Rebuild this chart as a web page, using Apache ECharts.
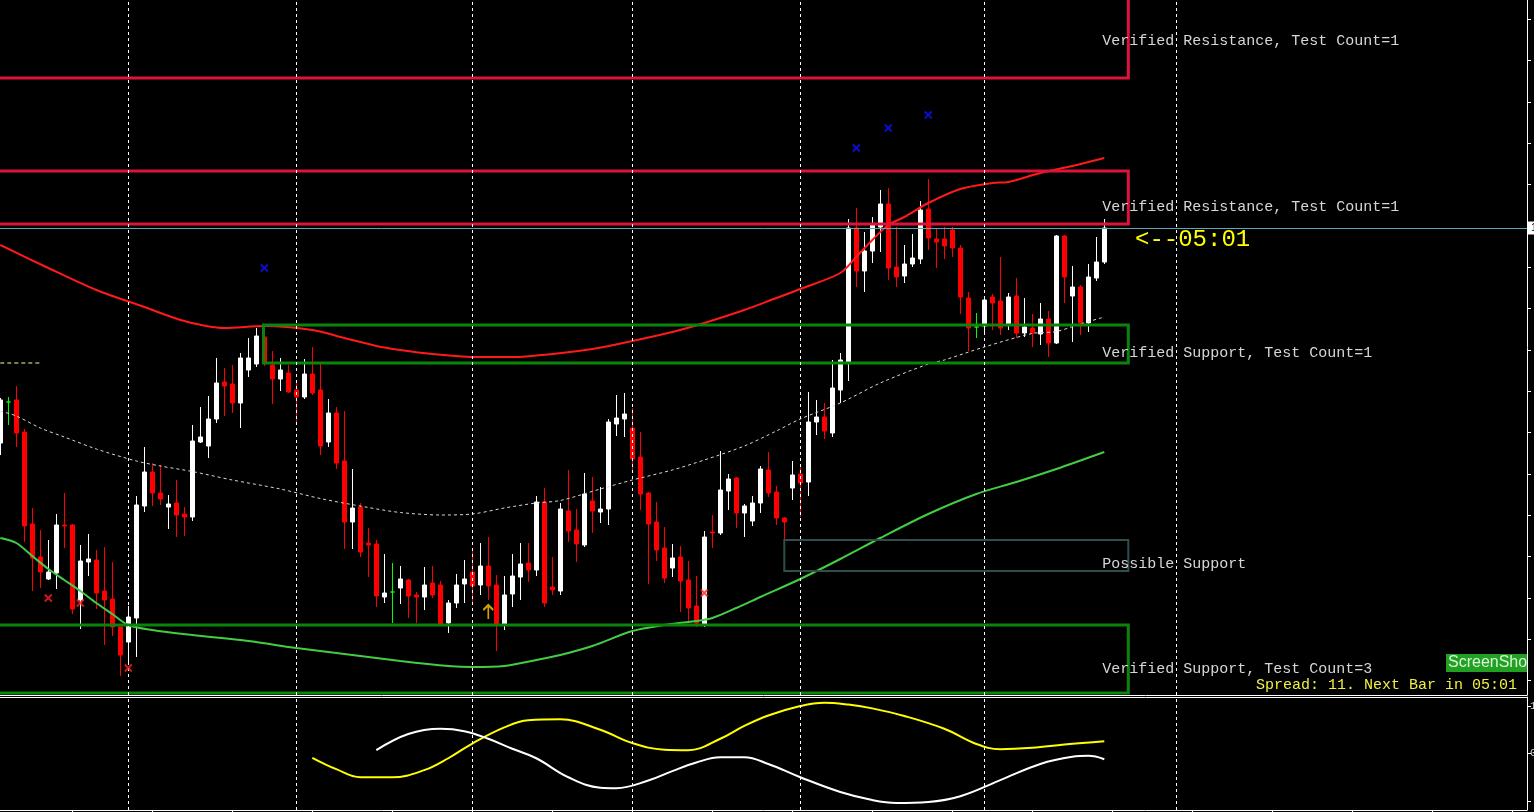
<!DOCTYPE html>
<html>
<head>
<meta charset="utf-8">
<title>Chart</title>
<script src="https://cdn.jsdelivr.net/npm/echarts@6.0.0/dist/echarts.min.js"></script>
<style>
  html, body { margin: 0; padding: 0; background: #000; }
  #main { width: 1534px; height: 812px; }
</style>
</head>
<body>
<div id="main"></div>
<script>
// bars: [open, close, low, high]
const ohlc = [
  [1.3057,1.3100,1.3045,1.3102],[1.3098,1.3098,1.3075,1.3103],[1.3100,1.3067,1.3053,1.3114],[1.3068,1.2974,1.2958,1.3071],
  [1.2976,1.2942,1.2909,1.2992],[1.2943,1.2928,1.2912,1.2970],[1.2921,1.2928,1.2920,1.2960],[1.2927,1.2975,1.2911,1.2986],
  [1.2975,1.2974,1.2952,1.3007],[1.2975,1.2891,1.2886,1.2976],[1.2900,1.2939,1.2871,1.2955],[1.2938,1.2941,1.2924,1.2966],
  [1.2940,1.2907,1.2891,1.2950],[1.2909,1.2900,1.2855,1.2953],[1.2901,1.2873,1.2864,1.2938],[1.2873,1.2845,1.2824,1.2873],
  [1.2858,1.2883,1.2837,1.2894],[1.2882,1.2995,1.2843,1.3004],[1.2994,1.3028,1.2988,1.3053],[1.3028,1.3007,1.2994,1.3037],
  [1.3007,1.3001,1.2995,1.3035],[1.2993,1.2996,1.2971,1.3005],[1.2997,1.2985,1.2963,1.3020],[1.2986,1.2983,1.2964,1.2993],
  [1.2983,1.3059,1.2979,1.3075],[1.3058,1.3063,1.3057,1.3093],[1.3054,1.3081,1.3042,1.3104],[1.3081,1.3117,1.3077,1.3142],
  [1.3118,1.3114,1.3084,1.3132],[1.3116,1.3097,1.3087,1.3135],[1.3097,1.3142,1.3072,1.3147],[1.3130,1.3142,1.3123,1.3162],
  [1.3136,1.3164,1.3133,1.3172],[1.3163,1.3138,1.3134,1.3174],[1.3135,1.3121,1.3096,1.3149],[1.3121,1.3130,1.3109,1.3142],
  [1.3127,1.3108,1.3107,1.3135],[1.3110,1.3103,1.3078,1.3117],[1.3103,1.3126,1.3101,1.3141],[1.3126,1.3107,1.3105,1.3153],
  [1.3110,1.3054,1.3045,1.3138],[1.3058,1.3087,1.3053,1.3101],[1.3087,1.3037,1.3031,1.3093],[1.3039,1.2978,1.2951,1.3089],
  [1.2978,1.2992,1.2951,1.3031],[1.2993,1.2948,1.2943,1.2997],[1.2957,1.2955,1.2923,1.2972],[1.2956,1.2904,1.2893,1.2960],
  [1.2903,1.2907,1.2897,1.2946],[1.2908,1.2908,1.2877,1.2937],[1.2912,1.2921,1.2896,1.2934],[1.2920,1.2904,1.2882,1.2921],
  [1.2905,1.2903,1.2877,1.2908],[1.2903,1.2915,1.2890,1.2933],[1.2917,1.2905,1.2902,1.2934],[1.2915,1.2876,1.2876,1.2919],
  [1.2877,1.2897,1.2867,1.2900],[1.2897,1.2915,1.2892,1.2926],[1.2916,1.2921,1.2897,1.2940],[1.2928,1.2914,1.2898,1.2951],
  [1.2915,1.2934,1.2905,1.2957],[1.2934,1.2914,1.2900,1.2963],[1.2915,1.2876,1.2849,1.2925],[1.2876,1.2905,1.2870,1.2924],
  [1.2906,1.2924,1.2893,1.2946],[1.2923,1.2936,1.2900,1.2957],[1.2937,1.2930,1.2918,1.2957],[1.2930,1.2998,1.2924,1.3004],
  [1.2998,1.2897,1.2893,1.3012],[1.2913,1.2910,1.2905,1.2943],[1.2909,1.2991,1.2905,1.2997],[1.2989,1.2969,1.2958,1.3030],
  [1.2970,1.2956,1.2938,1.2991],[1.2955,1.3006,1.2953,1.3027],[1.2999,1.2989,1.2967,1.3023],[1.2988,1.2991,1.2977,1.3013],
  [1.2991,1.3078,1.2975,1.3081],[1.3076,1.3082,1.3064,1.3105],[1.3081,1.3086,1.3063,1.3107],[1.3072,1.3041,1.3028,1.3092],
  [1.3043,1.3006,1.2990,1.3068],[1.3007,1.2976,1.2916,1.3008],[1.2978,1.2950,1.2939,1.2998],[1.2952,1.2922,1.2917,1.2973],
  [1.2932,1.2942,1.2923,1.2956],[1.2943,1.2919,1.2888,1.2954],[1.2920,1.2892,1.2878,1.2939],[1.2894,1.2877,1.2873,1.2924],
  [1.2875,1.2963,1.2873,1.2969],[1.2968,1.2967,1.2952,1.2985],[1.2967,1.3010,1.2965,1.3049],[1.3009,1.3021,1.2990,1.3026],
  [1.3022,1.2987,1.2972,1.3023],[1.2987,1.2994,1.2963,1.2996],[1.2979,1.2997,1.2974,1.3004],[1.2997,1.3031,1.2987,1.3034],
  [1.3030,1.3007,1.3003,1.3048],[1.3008,1.2982,1.2975,1.3014],[1.2982,1.2978,1.2960,1.2983],[1.3012,1.3025,1.3000,1.3039],
  [1.3026,1.3017,1.2983,1.3035],[1.3018,1.3078,1.3004,1.3108],[1.3078,1.3083,1.3065,1.3100],[1.3083,1.3069,1.3061,1.3097],
  [1.3067,1.3112,1.3063,1.3140],[1.3110,1.3140,1.3097,1.3147],[1.3137,1.3272,1.3119,1.3281],[1.3272,1.3229,1.3213,1.3292],
  [1.3229,1.3249,1.3208,1.3268],[1.3249,1.3275,1.3237,1.3283],[1.3273,1.3296,1.3248,1.3310],[1.3296,1.3232,1.3220,1.3312],
  [1.3233,1.3223,1.3213,1.3273],[1.3224,1.3236,1.3217,1.3255],[1.3236,1.3242,1.3233,1.3266],[1.3241,1.3290,1.3236,1.3299],
  [1.3291,1.3262,1.3250,1.3321],[1.3261,1.3258,1.3232,1.3272],[1.3261,1.3254,1.3241,1.3273],[1.3270,1.3252,1.3243,1.3273],
  [1.3252,1.3203,1.3186,1.3255],[1.3202,1.3172,1.3149,1.3208],[1.3173,1.3173,1.3162,1.3187],[1.3174,1.3200,1.3167,1.3202],
  [1.3203,1.3197,1.3170,1.3206],[1.3199,1.3172,1.3165,1.3243],[1.3175,1.3203,1.3170,1.3207],[1.3204,1.3167,1.3162,1.3222],
  [1.3167,1.3173,1.3163,1.3202],[1.3172,1.3167,1.3153,1.3186],[1.3166,1.3181,1.3155,1.3197],[1.3181,1.3157,1.3143,1.3189],
  [1.3157,1.3264,1.3156,1.3265],[1.3264,1.3223,1.3197,1.3265],[1.3204,1.3213,1.3158,1.3234],[1.3213,1.3177,1.3165,1.3215],
  [1.3177,1.3223,1.3168,1.3236],[1.3222,1.3238,1.3219,1.3263],[1.3238,1.3272,1.3236,1.3281]
];

// moving averages: [bar, price]
const redMA = [[0,1.3255],[6,1.3232],[12,1.3210],[18,1.3193],[23,1.3179],[28,1.3172],[33,1.3174],[39,1.3170],[43,1.3162],
  [47,1.3154],[50,1.3150],[54,1.3146],[59,1.3143],[64,1.3143],[69,1.3146],[74,1.3151],[79,1.3159],[84,1.3168],[88,1.3177],
  [93,1.3190],[97,1.3202],[100,1.3211],[105,1.3227],[107,1.3243],[109,1.3260],[111,1.3275],[113,1.3283],[116,1.3297],
  [120,1.3311],[124,1.3317],[126,1.3318],[130,1.3327],[134,1.3334],[138,1.3342]];
const greyMA = [[0,1.3089],[2,1.3084],[5,1.3072],[8,1.3063],[12,1.3051],[17,1.3039],[20,1.3034],[24,1.30285],[29,1.3020],
  [35,1.3011],[40,1.30015],[46,1.29925],[50,1.29875],[55,1.2985],[59,1.2986],[63,1.2992],[67,1.2997],[70,1.29995],[75,1.3011],
  [79,1.3020],[84,1.3030],[88,1.3040],[93,1.3054],[97,1.3069],[100,1.3081],[105,1.3097],[110,1.3117],[116,1.3136],[118,1.3140],
  [123,1.3153],[129,1.31665],[132,1.31685],[135,1.3176],[138,1.3183]];
const greenMA = [[0,1.2962],[2,1.2957],[4,1.2944],[6,1.2931],[8,1.2920],[10,1.2909],[12,1.2897],[14,1.2886],[16,1.2875],
  [19,1.2870],[24,1.2865],[31,1.2859],[37,1.2852],[43,1.2846],[50,1.2839],[56,1.2834],[59,1.2833],[63,1.2834],[67,1.2840],
  [70,1.2845],[74,1.2854],[79,1.2869],[83,1.2875],[87,1.2879],[89,1.2882],[92,1.2892],[95,1.2903],[100,1.2921],[105,1.2941],
  [110,1.2962],[116,1.2986],[122,1.3006],[127,1.3018],[132,1.3031],[138,1.3048]];
const prevLevel = [[0,1.3137],[5,1.3137]];

// oscillator panel
const leadSine = [[39,-0.09],[42,-0.33],[45,-0.5],[49,-0.5],[53,-0.35],[56,-0.1],[59,0.21],[63,0.55],[66,0.7],[70,0.72],
  [75,0.5],[79,0.22],[83,0.08],[86,0.07],[90,0.31],[93,0.58],[96,0.8],[100,1.0],[103,1.07],[106,1.03],[109,0.95],[113,0.79],
  [118,0.52],[122,0.2],[125,0.09],[129,0.12],[133,0.19],[138,0.26]];
const sineWave = [[47,0.07],[51,0.41],[55,0.52],[58,0.47],[61,0.31],[64,0.1],[67,-0.1],[71,-0.5],[75,-0.72],[77,-0.73],
  [81,-0.57],[84,-0.37],[87,-0.19],[90,-0.08],[93,-0.08],[96,-0.22],[100,-0.5],[105,-0.81],[109,-0.98],[112,-1.04],
  [116,-1.02],[120,-0.9],[125,-0.56],[130,-0.22],[134,-0.07],[136,-0.05],[138,-0.12]];

// fractal marks
const upFractals = [[33,1.3232],[107,1.3352],[111,1.3372],[116,1.3385]];
const downFractals = [[6,1.2902],[10,1.2897],[16,1.2832],[88,1.2907]];
const buyArrows = [[61,1.2888]];

// support / resistance zones
const zoneStart = [-2, -2, 32.9, 98, -2];
const zoneEnd = [141, 141, 141, 141, 141];
const zoneTop = [1.3515, 1.3329, 1.3175, 1.2960, 1.2875];
const zoneBottom = [1.3422, 1.3276, 1.3137, 1.2929, 1.2807];
const zoneKind = ['res', 'res', 'sup', 'possible', 'sup'];
const zoneText = ['Verified Resistance, Test Count=1', 'Verified Resistance, Test Count=1',
  'Verified Support, Test Count=1', 'Possible Support', 'Verified Support, Test Count=3'];
const zoneTextPrice = [1.3459, 1.3293, 1.3147, 1.2936, 1.2831];

// axes
const gridBars = [16, 37, 59, 79, 100, 123, 147];
const timeTicks = [9,19,29,39,49,59,69,79,89,99,109,119,129,139,149,159,169,179,189];
const priceTicks = [1.34807,1.34393,1.3398,1.33567,1.33153,1.3274,1.32327,1.31913,1.315,1.31087,1.30673,1.3026,
  1.29847,1.29433,1.2902,1.28607,1.28193];
const oscTicks = [-1, 0, 1];
const oscLabels = [1, 0];

const xMin = -0.0375, xMax = 190.8375;
const yMin = 1.2805, yMax = 1.3500;

var myChart = echarts.init(document.getElementById('main'));

const zoneColor = { res: '#dc143c', sup: '#0b840b', possible: '#2f4f4f' };
const zoneWidth = { res: 3, sup: 3, possible: 2 };
const mono = '"Liberation Mono", "Courier New", monospace';
const lastClose = ohlc[ohlc.length - 1][1];

const candleData = ohlc.map(function (c, i) {
  var item = { value: [i, c[0], c[1], c[2], c[3]] };
  if (c[0] === c[1]) {
    // doji drawn green
    item.itemStyle = { color: '#00ff00', color0: '#00ff00', borderColor: '#00ff00', borderColor0: '#00ff00' };
  }
  return item;
});

const plainX = {
  type: 'value', min: xMin, max: xMax,
  axisLine: { show: true, onZero: false, lineStyle: { color: '#ffffff', width: 1 } },
  axisTick: { show: false }, axisLabel: { show: false }, splitLine: { show: false }
};

function gridMark(withBid) {
  var data = gridBars.map(function (b) { return { xAxis: b }; });
  if (withBid) {
    data.push({
      yAxis: lastClose,
      lineStyle: { color: '#5aa8b8', width: 1, type: 'solid' },
      label: { show: true, position: 'end', formatter: lastClose.toFixed(4), color: '#000000',
        backgroundColor: '#ffffff', fontSize: 11, padding: [1, 3], distance: 1 }
    });
  }
  return {
    silent: true, symbol: ['none', 'none'], precision: 5, label: { show: false },
    lineStyle: { color: '#ffffff', type: [3, 3], width: 1 },
    data: data
  };
}

var option = {
  backgroundColor: '#000000',
  animation: false,
  grid: [
    { left: 0, right: 7, top: 0, height: 695, outerBoundsMode: 'none' },
    { left: 0, right: 7, top: 697, height: 113, outerBoundsMode: 'none' }
  ],
  xAxis: [
    Object.assign({}, plainX, { gridIndex: 0, position: 'bottom' }),
    Object.assign({}, plainX, { gridIndex: 1, position: 'bottom',
      axisTick: { show: true, customValues: timeTicks, length: 4, lineStyle: { color: '#ffffff' } } }),
    Object.assign({}, plainX, { gridIndex: 1, position: 'top' })
  ],
  yAxis: [
    {
      gridIndex: 0, type: 'value', position: 'right', min: yMin, max: yMax,
      axisLine: { show: true, onZero: false, lineStyle: { color: '#ffffff', width: 1 } },
      axisTick: { show: true, customValues: priceTicks, length: 4, lineStyle: { color: '#ffffff' } },
      axisLabel: { show: false }, splitLine: { show: false }
    },
    {
      gridIndex: 1, type: 'value', position: 'right', min: -1.1895, max: 1.1895,
      axisLine: { show: true, onZero: false, lineStyle: { color: '#ffffff', width: 1 } },
      axisTick: { show: true, customValues: oscTicks, length: 4, lineStyle: { color: '#ffffff' } },
      axisLabel: { show: true, customValues: oscLabels, margin: 3, color: '#dddddd', fontSize: 11, fontFamily: mono,
        formatter: function (v) { return String(v); } },
      splitLine: { show: false }
    }
  ],
  series: [
    { type: 'line', xAxisIndex: 0, yAxisIndex: 0, data: [], z: 1, silent: true, markLine: gridMark(true) },
    { type: 'line', xAxisIndex: 1, yAxisIndex: 1, data: [], z: 1, silent: true, markLine: gridMark(false) },
    {
      name: 'price', type: 'candlestick', xAxisIndex: 0, yAxisIndex: 0, z: 2,
      barWidth: 5,
      encode: { x: 0, y: [1, 2, 3, 4] },
      itemStyle: { color: '#ffffff', color0: '#ff0000', borderColor: '#ffffff', borderColor0: '#ff0000', borderWidth: 1 },
      data: candleData
    },
    { name: 'ma slow', type: 'line', xAxisIndex: 0, yAxisIndex: 0, z: 3, data: greyMA, symbol: 'none', smooth: 0.3,
      lineStyle: { color: '#d8d8d8', width: 1, type: [3, 3] } },
    { name: 'ma red', type: 'line', xAxisIndex: 0, yAxisIndex: 0, z: 3, data: redMA, symbol: 'none', smooth: 0.3,
      lineStyle: { color: '#ff1a1a', width: 2 } },
    { name: 'ma green', type: 'line', xAxisIndex: 0, yAxisIndex: 0, z: 3, data: greenMA, symbol: 'none', smooth: 0.3,
      lineStyle: { color: '#44cc44', width: 2 } },
    { name: 'level', type: 'line', xAxisIndex: 0, yAxisIndex: 0, z: 3, data: prevLevel, symbol: 'none',
      lineStyle: { color: '#ffff99', width: 1, type: [4, 3] } },
    {
      name: 'zones', type: 'custom', xAxisIndex: 0, yAxisIndex: 0, z: 4,
      encode: { x: [0, 1], y: [2, 3] },
      data: zoneStart.map(function (s, i) { return [s, zoneEnd[i], zoneTop[i], zoneBottom[i]]; }),
      renderItem: function (params, api) {
        var i = params.dataIndex;
        var p0 = api.coord([api.value(0), api.value(2)]);
        var p1 = api.coord([api.value(1), api.value(3)]);
        var ty = api.coord([0, zoneTextPrice[i]])[1];
        return {
          type: 'group',
          children: [
            { type: 'rect', shape: { x: p0[0], y: p0[1], width: p1[0] - p0[0], height: p1[1] - p0[1] },
              style: { fill: 'none', stroke: zoneColor[zoneKind[i]], lineWidth: zoneWidth[zoneKind[i]] } },
            { type: 'text', x: p1[0] - 26, y: ty,
              style: { text: zoneText[i], fill: '#d6d6d6', font: '15px ' + mono, verticalAlign: 'middle', align: 'left' } }
          ]
        };
      }
    },
    { type: 'scatter', xAxisIndex: 0, yAxisIndex: 0, z: 5, data: upFractals,
      symbol: 'path://M0,0L10,10M10,0L0,10', symbolSize: 7,
      itemStyle: { color: 'rgba(0,0,0,0)', borderColor: '#1010ff', borderWidth: 2 } },
    { type: 'scatter', xAxisIndex: 0, yAxisIndex: 0, z: 5, data: downFractals,
      symbol: 'path://M0,0L10,10M10,0L0,10', symbolSize: 7,
      itemStyle: { color: 'rgba(0,0,0,0)', borderColor: '#ff2020', borderWidth: 2 } },
    { type: 'scatter', xAxisIndex: 0, yAxisIndex: 0, z: 5, data: buyArrows,
      symbol: 'path://M5,0L5,14M0,5L5,0L10,5', symbolSize: [10, 14],
      itemStyle: { color: 'rgba(0,0,0,0)', borderColor: '#ffcc00', borderWidth: 2 } },
    { name: 'lead', type: 'line', xAxisIndex: 1, yAxisIndex: 1, z: 3, data: leadSine, symbol: 'none', smooth: 0.4,
      lineStyle: { color: '#ffff00', width: 2 } },
    { name: 'sine', type: 'line', xAxisIndex: 1, yAxisIndex: 1, z: 3, data: sineWave, symbol: 'none', smooth: 0.4,
      lineStyle: { color: '#ffffff', width: 2 } }
  ],
  graphic: [
    { type: 'text', x: 1135, y: 240, z: 100,
      style: { text: '<--05:01', fill: '#ffff00', font: '24px ' + mono, verticalAlign: 'middle' } },
    { type: 'text', x: 1517, y: 685, z: 100,
      style: { text: 'Spread: 11. Next Bar in 05:01', fill: '#f0f040', font: '15px ' + mono, align: 'right', verticalAlign: 'middle' } },
    { type: 'rect', x: 1446, y: 654, z: 100, shape: { width: 81, height: 18 }, style: { fill: '#22a022' } },
    { type: 'text', x: 1448, y: 663, z: 101,
      style: { text: 'ScreenSho', fill: '#d8f5d8', font: '16px "Liberation Sans", Arial, sans-serif', verticalAlign: 'middle' } }
  ]
};

option && myChart.setOption(option);
</script>
</body>
</html>
